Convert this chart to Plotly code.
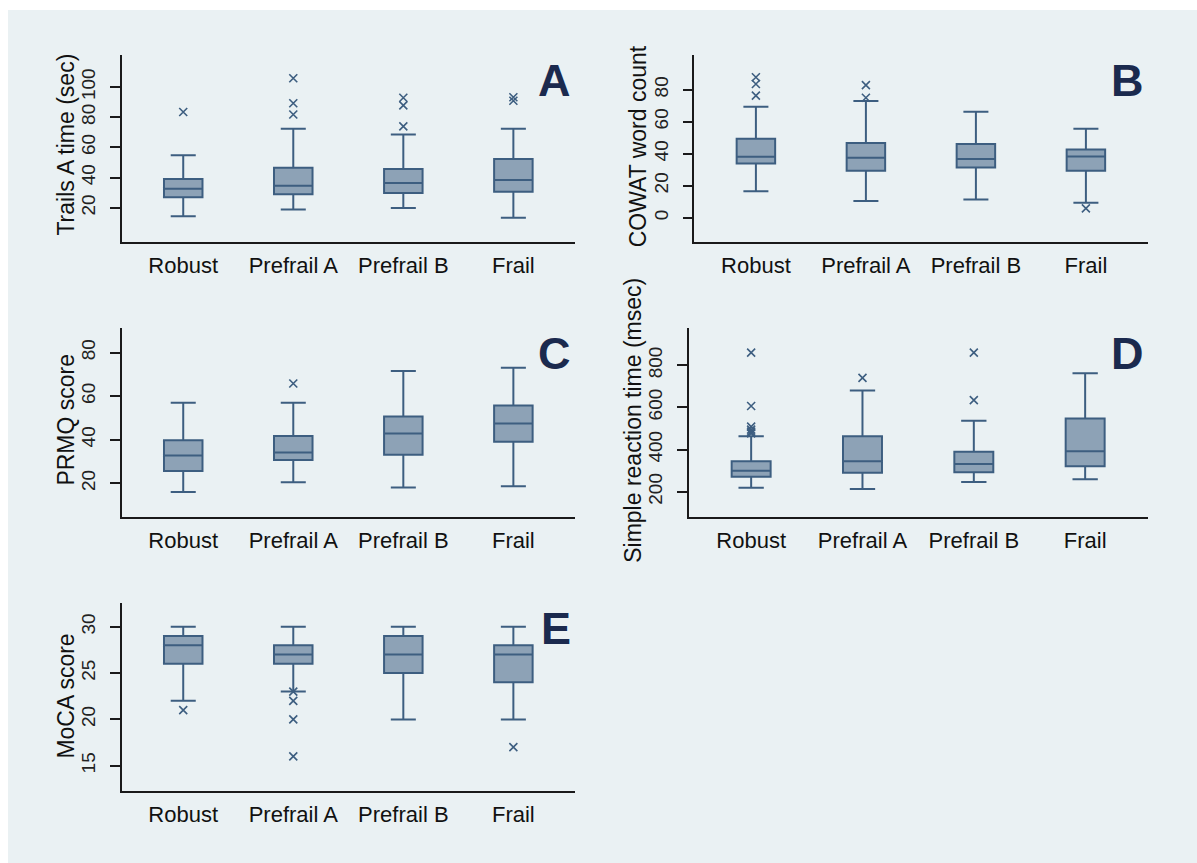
import plotly.graph_objects as go

W, H = 1197, 863

groups = ["Robust", "Prefrail A", "Prefrail B", "Frail"]

# A: Trails A time (sec)
trails_q1 = [26.9, 28.9, 29.7, 30.6]
trails_med = [32.6, 34.6, 36.4, 38.4]
trails_q3 = [39.0, 46.5, 45.6, 52.3]
trails_lo = [14.3, 18.9, 19.8, 13.4]
trails_hi = [54.7, 72.4, 68.6, 72.4]
trails_out_grp = ["Robust", "Prefrail A", "Prefrail A", "Prefrail A",
                  "Prefrail B", "Prefrail B", "Prefrail B", "Frail", "Frail"]
trails_out_val = [83.4, 81.8, 89.2, 105.8, 73.9, 87.8, 92.9, 90.9, 93.2]
trails_ticks = [20, 40, 60, 80, 100]

# B: COWAT word count
cowat_q1 = [33.8, 29.4, 31.3, 29.4]
cowat_med = [38.1, 37.5, 36.7, 38.3]
cowat_q3 = [49.4, 46.7, 46.1, 42.7]
cowat_lo = [16.5, 10.4, 11.3, 9.4]
cowat_hi = [69.4, 72.9, 66.3, 55.6]
cowat_out_grp = ["Robust", "Robust", "Robust", "Prefrail A", "Prefrail A", "Frail"]
cowat_out_val = [76.3, 83.6, 87.8, 75.0, 82.9, 5.8]
cowat_ticks = [0, 20, 40, 60, 80]

# C: PRMQ score
prmq_q1 = [25.6, 30.7, 33.1, 39.1]
prmq_med = [32.7, 34.1, 42.9, 47.4]
prmq_q3 = [39.7, 41.7, 50.6, 55.7]
prmq_lo = [16.0, 20.5, 18.0, 18.6]
prmq_hi = [57.0, 57.0, 71.6, 73.0]
prmq_out_grp = ["Prefrail A"]
prmq_out_val = [65.8]
prmq_ticks = [20, 40, 60, 80]

# D: Simple reaction time (msec)
srt_q1 = [271, 290, 292, 321]
srt_med = [300, 344, 331, 392]
srt_q3 = [344, 463, 390, 548]
srt_lo = [219, 213, 246, 259]
srt_hi = [463, 680, 537, 762]
srt_out_grp = ["Robust", "Robust", "Robust", "Robust", "Robust", "Robust",
               "Prefrail A", "Prefrail B", "Prefrail B"]
srt_out_val = [477, 485, 495, 509, 607, 860, 740, 635, 860]
srt_ticks = [200, 400, 600, 800]

# E: MoCA score
moca_q1 = [26, 26, 25, 24]
moca_med = [28, 27, 27, 27]
moca_q3 = [29, 28, 29, 28]
moca_lo = [22, 23, 20, 20]
moca_hi = [30, 30, 30, 30]
moca_out_grp = ["Robust", "Prefrail A", "Prefrail A", "Prefrail A", "Prefrail A", "Frail"]
moca_out_val = [21, 23, 22, 20, 16, 17]
moca_ticks = [15, 20, 25, 30]

BG = "#EAF1F3"
FILL = "#8DA2B6"
EDGE = "#3D5E80"
LETTER = "#1B2A4E"
FONT = "Liberation Sans, Arial, sans-serif"

# panel frames in pixels: left, right, top, bottom
panels = [
    dict(letter="A", title="Trails A time (sec)", rng=[-2.7, 121.2], ticks=trails_ticks,
         q1=trails_q1, med=trails_med, q3=trails_q3, lo=trails_lo, hi=trails_hi,
         og=trails_out_grp, ov=trails_out_val, box=(121.6, 575, 55, 242), tcy=145),
    dict(letter="B", title="COWAT word count", rng=[-15.2, 101.7], ticks=cowat_ticks,
         q1=cowat_q1, med=cowat_med, q3=cowat_q3, lo=cowat_lo, hi=cowat_hi,
         og=cowat_out_grp, ov=cowat_out_val, box=(694.3, 1147.5, 55, 242), tcy=146),
    dict(letter="C", title="PRMQ score", rng=[4.5, 91.3], ticks=prmq_ticks,
         q1=prmq_q1, med=prmq_med, q3=prmq_q3, lo=prmq_lo, hi=prmq_hi,
         og=prmq_out_grp, ov=prmq_out_val, box=(121.6, 575, 328, 517), tcy=420),
    dict(letter="D", title="Simple reaction time (msec)", rng=[80, 977], ticks=srt_ticks,
         q1=srt_q1, med=srt_med, q3=srt_q3, lo=srt_lo, hi=srt_hi,
         og=srt_out_grp, ov=srt_out_val, box=(688.8, 1147.5, 328, 517), tcy=420),
    dict(letter="E", title="MoCA score", rng=[12.27, 32.56], ticks=moca_ticks,
         q1=moca_q1, med=moca_med, q3=moca_q3, lo=moca_lo, hi=moca_hi,
         og=moca_out_grp, ov=moca_out_val, box=(121.6, 575, 603, 791), tcy=696),
]

fig = go.Figure()
layout = dict(
    width=W, height=H,
    margin=dict(l=0, r=0, t=0, b=0),
    paper_bgcolor="white",
    plot_bgcolor="white",
    showlegend=False,
    boxgap=0.5,
    font=dict(family=FONT, color="#111"),
    shapes=[dict(type="rect", xref="paper", yref="paper", x0=8 / W, x1=1, y0=0, y1=1 - 10 / H,
                 fillcolor=BG, line=dict(width=0), layer="below")],
    annotations=[],
)

for i, p in enumerate(panels, start=1):
    sfx = "" if i == 1 else str(i)
    xa, ya = "x" + sfx, "y" + sfx
    left, right, top, bottom = p["box"]
    xd = [left / W, right / W]
    yd = [1 - bottom / H, 1 - top / H]

    fig.add_trace(go.Box(
        x=groups, q1=p["q1"], median=p["med"], q3=p["q3"],
        lowerfence=p["lo"], upperfence=p["hi"],
        boxpoints=False, fillcolor=FILL, line=dict(color=EDGE, width=2),
        whiskerwidth=0.65, xaxis=xa, yaxis=ya, hoverinfo="skip"))
    fig.add_trace(go.Scatter(
        x=p["og"], y=p["ov"], mode="markers", xaxis=xa, yaxis=ya,
        marker=dict(symbol="x-thin", size=8, line=dict(color=EDGE, width=1.6)),
        hoverinfo="skip"))

    layout["xaxis" + sfx] = dict(
        domain=xd, anchor=ya, type="category", categoryorder="array",
        categoryarray=groups, range=[-0.56, 3.56], showline=True,
        linecolor="#1a1a1a", linewidth=1.5, ticks="", showgrid=False,
        tickfont=dict(size=22, color="#111"), ticklabelstandoff=3, fixedrange=True)
    layout["yaxis" + sfx] = dict(
        domain=yd, anchor=xa, range=p["rng"], tickvals=p["ticks"],
        showline=True, linecolor="#1a1a1a", linewidth=1.5, ticks="outside",
        ticklen=10, tickwidth=1.5, tickcolor="#1a1a1a", tickangle=-90,
        tickfont=dict(size=19, color="#222"), ticklabelstandoff=7,
        showgrid=True, gridcolor=BG, gridwidth=1.5, zeroline=False, fixedrange=True)

    # y-axis title
    layout["annotations"].append(dict(
        xref="paper", yref="paper", x=(left - 56) / W, y=1 - p["tcy"] / H,
        xanchor="center", yanchor="middle", text=p["title"], textangle=-90,
        showarrow=False, font=dict(size=23, color="#111", family=FONT)))
    # panel letter
    layout["annotations"].append(dict(
        xref="paper", yref="paper", x=(right - 2) / W, y=1 - (top - 2) / H,
        xanchor="right", yanchor="top", text="<b>" + p["letter"] + "</b>",
        showarrow=False, font=dict(size=45, color=LETTER, family=FONT)))

fig.update_layout(**layout)
fig.write_html("out.html")
